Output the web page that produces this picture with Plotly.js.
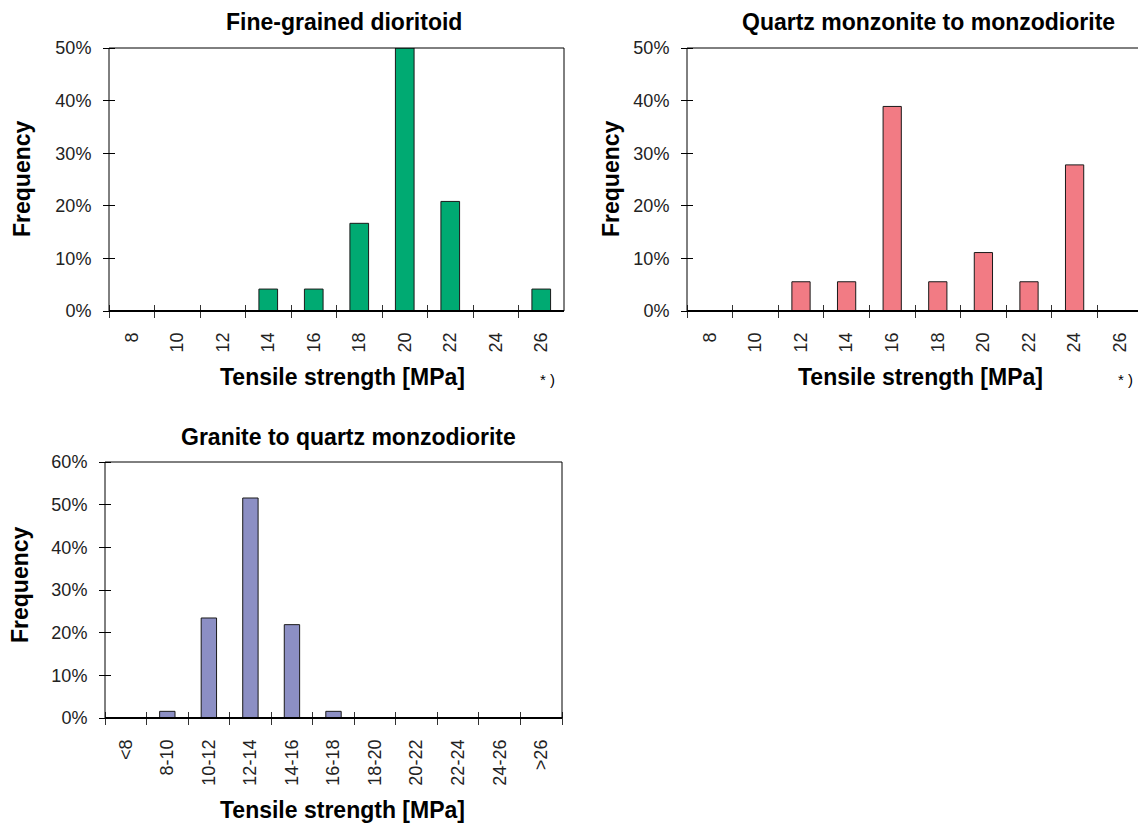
<!DOCTYPE html>
<html>
<head>
<meta charset="utf-8">
<script src="https://cdn.plot.ly/plotly-3.0.1.min.js"></script>
<style>html,body{margin:0;padding:0;background:#fff;}#chart{width:1138px;height:823px;}</style>
</head>
<body>
<div id="chart"></div>
<script>
// ---- data ----
const catsA = ['8','10','12','14','16','18','20','22','24','26'];
const valsDioritoid = [0, 0, 0, 0.0417, 0.0417, 0.1667, 0.5, 0.2083, 0, 0.0417];
const valsMonzonite = [0, 0, 0.0556, 0.0556, 0.3889, 0.0556, 0.1111, 0.0556, 0.2778, 0];
const catsB = ['<8','8-10','10-12','12-14','14-16','16-18','18-20','20-22','22-24','24-26','>26'];
const valsGranite = [0, 0.0156, 0.2344, 0.5156, 0.2188, 0.0156, 0, 0, 0, 0, 0];
const titles = ['Fine-grained dioritoid', 'Quartz monzonite to monzodiorite', 'Granite to quartz monzodiorite'];
const xTitle = 'Tensile strength [MPa]';
const yTitle = 'Frequency';
const yTicks1 = [0, 0.1, 0.2, 0.3, 0.4, 0.5];
const yTicks3 = [0, 0.1, 0.2, 0.3, 0.4, 0.5, 0.6];

const W = 1138, H = 823;
const FONT = 'Liberation Sans, Arial, sans-serif';
const px = v => v / W;
const py = v => 1 - v / H;
const lw = vals => vals.map(v => v > 0 ? 1 : 0);

const traces = [
  {type:'bar', x:catsA, y:valsDioritoid, xaxis:'x', yaxis:'y', width:0.41,
   marker:{color:'#00AA72', line:{color:'#1a1a1a', width:lw(valsDioritoid)}}, hoverinfo:'x+y'},
  {type:'bar', x:catsA, y:valsMonzonite, xaxis:'x2', yaxis:'y2', width:0.40,
   marker:{color:'#F27B84', line:{color:'#1a1a1a', width:lw(valsMonzonite)}}, hoverinfo:'x+y'},
  {type:'bar', x:catsB, y:valsGranite, xaxis:'x3', yaxis:'y3', width:0.37,
   marker:{color:'#8C8FC4', line:{color:'#1a1a1a', width:lw(valsGranite)}}, hoverinfo:'x+y'}
];

const tickFont = {family: FONT, size: 18, color: '#222'};

// axes are placed slightly inside the frame so that long outside ticks cross the frame line
function xAx(domain, linePy, cats, range) {
  return {domain, anchor:'free', position: py(linePy - 7), type:'category',
    categoryorder:'array', categoryarray:cats, range, showline:false,
    ticks:'outside', ticklen:13, tickcolor:'#333', tickwidth:1, tickson:'boundaries',
    tickangle:-90, tickfont:tickFont, ticklabelstandoff:24,
    showgrid:false, zeroline:false, fixedrange:true};
}
function yAx(domain, linePx, ticks) {
  return {domain, anchor:'free', position: px(linePx + 6), range:[0, ticks[ticks.length-1]],
    tickvals:ticks, tickformat:'.0%', showline:false,
    ticks:'outside', ticklen:12, tickcolor:'#000', tickwidth:1,
    tickfont:tickFont, ticklabelstandoff:8,
    showgrid:false, zeroline:false, fixedrange:true};
}

const d1x = [px(109), px(564)], d1y = [py(311), py(48)];
const d2x = [px(687), 1], d2y = [py(311), py(48)];
const d3x = [px(105), px(562)], d3y = [py(718), py(462)];
const rA = [-0.5, 9.5];
const rA2 = [-0.5, -0.5 + (W - 687) / 45.6];
const rB = [-0.5, 10.5];

const annFont = {family: FONT, size: 23, color: '#000'};
function ann(text, x, y, angle, font) {
  return {text, x, y, xref:'paper', yref:'paper', xanchor:'center', yanchor:'middle',
    showarrow:false, textangle:angle || 0, font: font || annFont};
}
const starFont = {family: FONT, size: 15, color: '#000'};

function frame(xa, ya, right) {
  const xr = xa + ' domain', yr = ya + ' domain';
  const s = [
    {type:'line', xref:xr, yref:yr, x0:0, x1:0, y0:0, y1:1, line:{color:'#000', width:1}, layer:'above'},
    {type:'line', xref:xr, yref:yr, x0:0, x1:right, y0:1, y1:1, line:{color:'#000', width:1}, layer:'above'},
    {type:'line', xref:xr, yref:yr, x0:0, x1:right, y0:0, y1:0, line:{color:'#000', width:2}, layer:'above'}
  ];
  if (right <= 1) s.push({type:'line', xref:xr, yref:yr, x0:1, x1:1, y0:0, y1:1, line:{color:'#000', width:1}, layer:'above'});
  return s;
}

const layout = {
  width: W, height: H,
  margin: {l:0, r:0, t:0, b:0, pad:0},
  paper_bgcolor:'#fff', plot_bgcolor:'rgba(0,0,0,0)',
  showlegend:false, bargap:0.5,
  font:{family: FONT, color:'#000'},
  xaxis: xAx(d1x, 311, catsA, rA),
  yaxis: yAx(d1y, 109, yTicks1),
  xaxis2: xAx(d2x, 311, catsA, rA2),
  yaxis2: yAx(d2y, 687, yTicks1),
  xaxis3: xAx(d3x, 718, catsB, rB),
  yaxis3: yAx(d3y, 105, yTicks3),
  shapes: [].concat(frame('x', 'y', 1), frame('x2', 'y2', 1.05), frame('x3', 'y3', 1)),
  annotations: [
    ann('<b>' + titles[0] + '</b>', px(344), py(22)),
    ann('<b>' + titles[1] + '</b>', px(928), py(22)),
    ann('<b>' + titles[2] + '</b>', px(348), py(437)),
    ann('<b>' + xTitle + '</b>', px(342), py(377)),
    ann('<b>' + xTitle + '</b>', px(920), py(377)),
    ann('<b>' + xTitle + '</b>', px(342), py(810)),
    ann('<b>' + yTitle + '</b>', px(22), py(179), -90),
    ann('<b>' + yTitle + '</b>', px(611), py(179), -90),
    ann('<b>' + yTitle + '</b>', px(20), py(585), -90),
    ann('* )', px(547), py(380), 0, starFont),
    ann('* )', px(1125), py(380), 0, starFont)
  ]
};

Plotly.newPlot('chart', traces, layout, {displayModeBar:false, staticPlot:true});
</script>
</body>
</html>
